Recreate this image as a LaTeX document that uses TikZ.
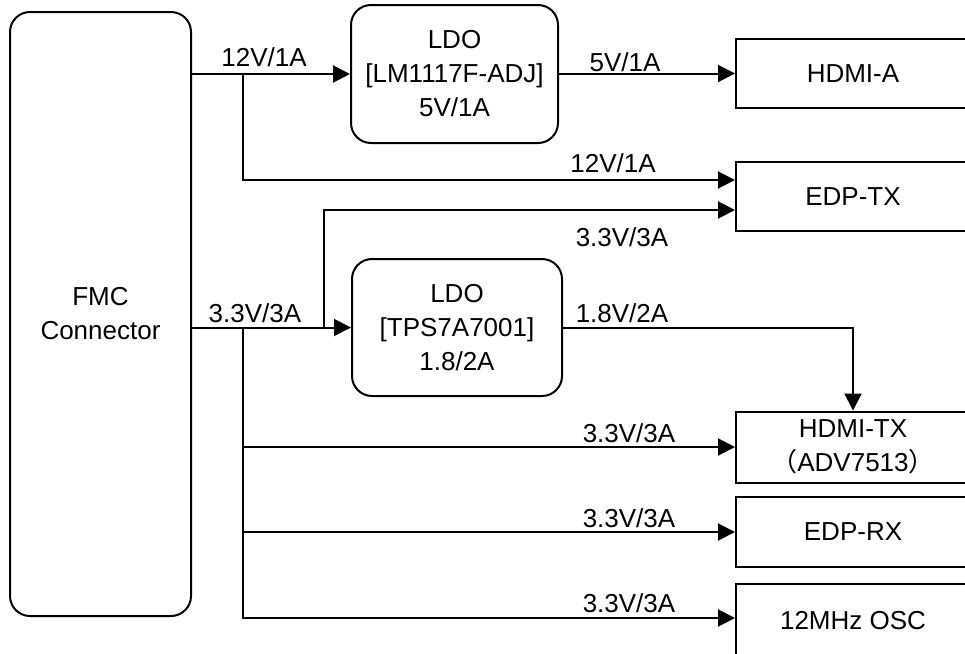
\documentclass[tikz,border=0pt]{standalone}
\usepackage{fontspec}
\setmainfont{Liberation Sans}
\newfontfamily\cjk{Noto Sans CJK SC}
\usetikzlibrary{arrows.meta}
\tikzset{
  wire/.style={line width=2pt},
  arr/.style={wire,-{Triangle[length=17pt,width=17pt]}},
  txt/.style={font=\fontsize{26}{34}\selectfont},
  rbox/.style={draw,line width=2pt,rounded corners=20pt,align=center,inner sep=0pt,txt},
  sbox/.style={draw,line width=2pt,align=center,inner sep=0pt,minimum width=234pt,txt},
  lbl/.style={inner sep=0pt,txt}
}
\begin{document}
\begin{tikzpicture}[x=1pt,y=-1pt]
\useasboundingbox (0,0) rectangle (965,653);
\clip (0,0) rectangle (965,653);
% blocks
\node[rbox,minimum width=181pt,minimum height=604pt] (fmc) at (100.5,314) {FMC\\Connector};
\node[rbox,minimum width=207pt,minimum height=138pt] (ldo1) at (454.5,74) {LDO\\{[}LM1117F-ADJ{]}\\5V/1A};
\node[rbox,minimum width=210pt,minimum height=137pt] (ldo2) at (457,327.5) {LDO\\{[}TPS7A7001{]}\\1.8/2A};
\node[sbox,minimum height=69pt] (hdmia) at (853,73.5) {HDMI-A};
\node[sbox,minimum height=69pt] (edptx) at (853,196.5) {EDP-TX};
\node[sbox,minimum height=71pt] (hdmitx) at (853,447) {HDMI-TX\\{\cjk （}ADV7513{\cjk ）}};
\node[sbox,minimum height=70pt] (edprx) at (853,532) {EDP-RX};
\node[sbox,minimum height=74pt] (osc) at (853,621) {12MHz OSC};
% junctions
\coordinate (j12) at (243,74);
\coordinate (j33a) at (324,327.5);
\coordinate (j33b) at (243,327.5);
% connectors
\draw[arr] (fmc.east |- ldo1.west) -- (ldo1.west);
\draw[arr] (j12) |- ([yshift=16.5pt]edptx.west);
\draw[arr] (ldo1.east |- hdmia.west) -- (hdmia.west);
\draw[arr] (fmc.east |- ldo2.west) -- (ldo2.west);
\draw[arr] (j33a) |- ([yshift=-13.5pt]edptx.west);
\draw[arr] (j33b) |- ([yshift=3pt]osc.west);
\draw[arr] (j33b |- hdmitx.west) -- (hdmitx.west);
\draw[arr] (j33b |- edprx.west) -- (edprx.west);
\draw[arr] (ldo2.east) -| (hdmitx.north);
% labels
\node[lbl] (l1) at (264,57) {12V/1A};
\node[lbl] (l2) at (613,163) {12V/1A};
\node[lbl] (l3) at (625,62) {5V/1A};
\node[lbl] (l4) at (255,313) {3.3V/3A};
\node[lbl] (l5) at (622,237) {3.3V/3A};
\node[lbl] (l6) at (622,313) {1.8V/2A};
\node[lbl] (l7) at (629,433) {3.3V/3A};
\node[lbl] (l8) at (629,518) {3.3V/3A};
\node[lbl] (l9) at (629,603) {3.3V/3A};
\end{tikzpicture}
\end{document}
